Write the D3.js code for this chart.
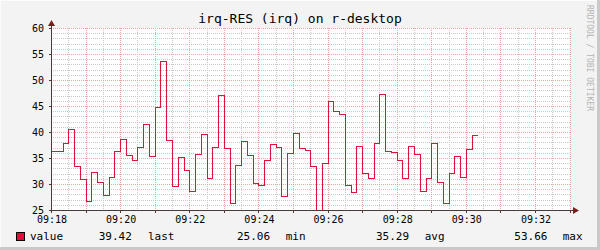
<!DOCTYPE html>
<html>
<head>
<meta charset="utf-8">
<script src="https://cdn.jsdelivr.net/npm/d3@7"></script>
<style>
  html, body { margin: 0; padding: 0; background: #f3f3f3; }
  svg { display: block; }
  text { font-family: "DejaVu Sans Mono", monospace; fill: #000; }
</style>
</head>
<body>
<div id="chart"></div>
<script>
// irq-RES samples, one every 10 seconds starting at 09:18:00
const startTime = new Date(2024, 0, 1, 9, 18, 0);
const stepSeconds = 10;
const values = [
  36.3, 36.3, 37.8, 40.6, 33.4, 31.0, 26.7, 32.4, 30.3, 27.8,
  31.4, 36.3, 38.6, 35.5, 34.6, 37.2, 41.5, 35.3, 44.8, 53.66,
  38.4, 29.7, 35.1, 32.6, 28.7, 35.8, 39.6, 31.1, 37.2, 47.2,
  37.0, 26.3, 33.6, 38.3, 35.5, 30.1, 29.9, 34.6, 37.7, 37.2,
  27.6, 36.0, 39.9, 37.0, 36.5, 33.4, 25.06, 34.0, 46.0, 44.0,
  43.4, 29.9, 28.4, 37.4, 32.1, 31.1, 37.9, 47.4, 36.3, 36.1,
  34.7, 31.1, 37.4, 35.8, 28.7, 31.1, 37.9, 30.4, 26.3, 32.1,
  35.3, 31.3, 36.7, 39.42
];
const xTickLabels = ["09:18", "09:20", "09:22", "09:24", "09:26", "09:28", "09:30", "09:32"];
const yTicks = [25, 30, 35, 40, 45, 50, 55, 60];
const statNames = ["last", "min", "avg", "max"];
const statValues = [39.42, 25.06, 35.29, 53.66];
const seriesName = "value";
const title = "irq-RES (irq) on r-desktop";
const watermark = "RRDTOOL / TOBI OETIKER";

const W = 600, H = 250;
const plotL = 51, plotR = 571, plotT = 28, plotB = 210;
const lineColor = "#dc143c";

const svg = d3.select("#chart").append("svg")
  .attr("width", W)
  .attr("height", H);

// background + shaded frame
svg.append("rect").attr("width", W).attr("height", H).attr("fill", "#f3f3f3");
svg.append("rect").attr("x", W - 3).attr("y", 0).attr("width", 3).attr("height", H).attr("fill", "#c9c9c9");
svg.append("rect").attr("x", 0).attr("y", H - 3).attr("width", W).attr("height", 3).attr("fill", "#c9c9c9");
svg.append("rect").attr("x", 0).attr("y", 0).attr("width", W - 3).attr("height", 1).attr("fill", "#fcfcfc");
svg.append("rect").attr("x", 0).attr("y", 0).attr("width", 1).attr("height", H - 3).attr("fill", "#fcfcfc");

const data = values.map((v, i) => ({ t: new Date(+startTime + i * stepSeconds * 1000), v: v }));
const endTime = new Date(+startTime + 902.5 * 1000);

const x = d3.scaleTime().domain([startTime, endTime]).range([plotL, plotR]);
const y = d3.scaleLinear().domain([25, 60]).range([plotB, plotT]);

// canvas
svg.append("rect")
  .attr("x", plotL).attr("y", plotT)
  .attr("width", plotR - plotL).attr("height", plotB - plotT)
  .attr("fill", "#fff");

const grid = svg.append("g").attr("shape-rendering", "crispEdges");

// minor grid
const minorY = d3.range(26, 60, 1).filter(d => d % 5 !== 0);
grid.selectAll(".hmin").data(minorY).enter().append("line")
  .attr("x1", plotL).attr("x2", plotR)
  .attr("y1", d => Math.round(y(d)) + 0.5).attr("y2", d => Math.round(y(d)) + 0.5)
  .attr("stroke", "#c8c8c8").attr("stroke-dasharray", "1,1");

const minorX = d3.range(30, 902, 60).map(s => new Date(+startTime + s * 1000));
grid.selectAll(".vmin").data(minorX).enter().append("line")
  .attr("y1", plotT).attr("y2", plotB)
  .attr("x1", d => Math.round(x(d)) + 0.5).attr("x2", d => Math.round(x(d)) + 0.5)
  .attr("stroke", "#c8c8c8").attr("stroke-dasharray", "1,1");

// major grid
grid.selectAll(".hmaj").data(yTicks.slice(1)).enter().append("line")
  .attr("x1", plotL).attr("x2", plotR)
  .attr("y1", d => Math.round(y(d)) + 0.5).attr("y2", d => Math.round(y(d)) + 0.5)
  .attr("stroke", "#f2a0a0").attr("stroke-dasharray", "1,1");

const majorX = d3.range(60, 902, 60).map(s => new Date(+startTime + s * 1000));
grid.selectAll(".vmaj").data(majorX).enter().append("line")
  .attr("y1", plotT).attr("y2", plotB)
  .attr("x1", d => Math.round(x(d)) + 0.5).attr("x2", d => Math.round(x(d)) + 0.5)
  .attr("stroke", "#f2a0a0").attr("stroke-dasharray", "1,1");

// step line (last sample held for its 10 s)
const lineData = data.concat([{ t: new Date(+data[data.length - 1].t + stepSeconds * 1000), v: values[values.length - 1] }]);
const line = d3.line()
  .x(d => Math.round(x(d.t)) + 0.5)
  .y(d => Math.round(y(d.v)) + 0.5)
  .curve(d3.curveStepAfter);

svg.append("path")
  .datum(lineData)
  .attr("d", line)
  .attr("fill", "none")
  .attr("stroke", lineColor)
  .attr("stroke-width", 1)
  .attr("shape-rendering", "crispEdges");

// axes
const axisColor = "#4a3a3a";
const arrowColor = "#7f1d1d";
const ax = svg.append("g").attr("shape-rendering", "crispEdges");
ax.append("line").attr("x1", plotL - 2).attr("x2", plotR + 4)
  .attr("y1", plotB + 0.5).attr("y2", plotB + 0.5).attr("stroke", axisColor);
ax.append("line").attr("x1", plotL + 0.5).attr("x2", plotL + 0.5)
  .attr("y1", plotB + 2).attr("y2", plotT - 4).attr("stroke", axisColor);

ax.selectAll(".ytk").data(yTicks).enter().append("line")
  .attr("x1", plotL - 2).attr("x2", plotL)
  .attr("y1", d => Math.round(y(d)) + 0.5).attr("y2", d => Math.round(y(d)) + 0.5)
  .attr("stroke", axisColor);
ax.selectAll(".xtk").data([startTime].concat(majorX)).enter().append("line")
  .attr("x1", d => Math.round(x(d)) + 0.5).attr("x2", d => Math.round(x(d)) + 0.5)
  .attr("y1", plotB + 1).attr("y2", plotB + 3)
  .attr("stroke", axisColor);

svg.append("path")
  .attr("d", `M${plotR + 2},${plotB - 3} L${plotR + 8},${plotB + 0.5} L${plotR + 2},${plotB + 4} Z`)
  .attr("fill", arrowColor);
svg.append("path")
  .attr("d", `M${plotL - 3},${plotT - 2} L${plotL + 0.5},${plotT - 8} L${plotL + 4},${plotT - 2} Z`)
  .attr("fill", arrowColor);

// tick labels
svg.selectAll(".ylab").data(yTicks).enter().append("text")
  .attr("x", plotL - 7)
  .attr("y", d => y(d) + 3.5)
  .attr("text-anchor", "end")
  .attr("font-size", 10)
  .text(d => d);

svg.selectAll(".xlab").data(xTickLabels).enter().append("text")
  .attr("x", (d, i) => x(new Date(+startTime + i * 120 * 1000)) + 1)
  .attr("y", 223)
  .attr("text-anchor", "middle")
  .attr("font-size", 10)
  .text(d => d);

// title
svg.append("text")
  .attr("x", 300).attr("y", 23)
  .attr("text-anchor", "middle")
  .attr("font-size", 13)
  .text(title);

// watermark on the right edge
svg.append("text")
  .attr("transform", "translate(587,5) rotate(90)")
  .attr("font-size", 8)
  .style("fill", "#b4b4b4")
  .text(watermark);

// legend
svg.append("rect")
  .attr("x", 16.5).attr("y", 232.5)
  .attr("width", 8).attr("height", 8)
  .attr("fill", lineColor)
  .attr("stroke", "#000");
svg.append("text").attr("x", 30).attr("y", 240).attr("font-size", 11).text(seriesName);

const valueX = [98.7, 237, 376, 514.3];
const nameX = [148, 285.7, 424.7, 562.7];
statValues.forEach((v, i) => {
  svg.append("text").attr("x", valueX[i]).attr("y", 240).attr("font-size", 11).text(v.toFixed(2));
  svg.append("text").attr("x", nameX[i]).attr("y", 240).attr("font-size", 11).text(statNames[i]);
});
</script>
</body>
</html>
